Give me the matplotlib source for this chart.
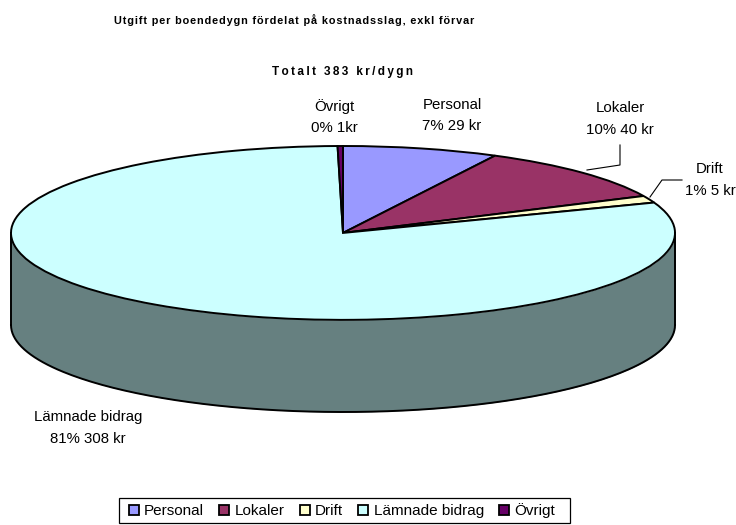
import numpy as np
import matplotlib.pyplot as plt
from matplotlib.lines import Line2D
from matplotlib.patches import Rectangle

plt.rcParams["font.family"] = ["Liberation Sans", "DejaVu Sans"]

names = ["Personal", "Lokaler", "Drift", "Lämnade bidrag", "Övrigt"]
kronor = [29, 40, 5, 308, 1]
percent = [7, 10, 1, 81, 0]
colors = ["#9999FF", "#993366", "#FFFFCC", "#CCFFFF", "#660066"]
side_color = "#668080"
labels = ["Personal\n7% 29 kr", "Lokaler\n10% 40 kr", "Drift\n1% 5 kr",
          "Lämnade bidrag\n81% 308 kr", "Övrigt\n0% 1kr"]
label_pos = [(452, 115.5), (620, 119), (710, 180), (88, 428), (334, 117)]

W, H = 736, 525
fig = plt.figure(figsize=(W / 100, H / 100), dpi=100)

# pie is squashed by the axes box, top ellipse spans x 11-675, y 146-320
depth = 1.06
ax = fig.add_axes([11 / W, 1 - 412 / H, 664 / W, 266 / H])
ax.set_zorder(1)

t = np.linspace(np.pi, 2 * np.pi, 200)
ax.fill_between(np.cos(t), np.sin(t), np.sin(t) - depth, color=side_color, lw=0, zorder=1)
ax.plot(np.cos(t), np.sin(t) - depth, color="black", lw=1.4, zorder=2)
ax.plot([-1, -1], [0, -depth], color="black", lw=1.4, zorder=2)
ax.plot([1, 1], [0, -depth], color="black", lw=1.4, zorder=2)

wedges, _ = ax.pie(kronor, colors=colors, startangle=90, counterclock=False,
                   wedgeprops=dict(edgecolor="black", linewidth=1.4, zorder=3))
ax.set_aspect("auto")
ax.set_xlim(-1, 1)
ax.set_ylim(-1 - depth, 1)
for w in wedges:
    w.set_clip_on(False)
for line in ax.lines:
    line.set_clip_on(False)


def fx(px):
    return px / W


def fy(py):
    return 1 - py / H


title = "Utgift per boendedygn fördelat på kostnadsslag, exkl förvar"
subtitle = "Totalt 383 kr/dygn"
fig.text(fx(294), fy(20), "\u200a".join(title), ha="center", va="center", fontsize=7.8, fontweight="bold")
fig.text(fx(343), fy(72), "\u2009".join(subtitle), ha="center", va="center", fontsize=8.5, fontweight="bold")

for text, (x, y) in zip(labels, label_pos):
    fig.text(fx(x), fy(y), text, ha="center", va="center", fontsize=10.8, linespacing=1.7)

# leader lines for Lokaler and Drift
for xs, ys in [([587, 620, 620], [170, 165, 145]), ([650, 662, 682], [197, 180, 180])]:
    fig.add_artist(Line2D([fx(v) for v in xs], [fy(v) for v in ys], color="black", lw=0.8))

# legend box is wider than its entries, so the frame is drawn on its own
fig.add_artist(Rectangle((fx(119), fy(523)), 451 / W, 25 / H, facecolor="white",
                         edgecolor="black", lw=0.9, transform=fig.transFigure))
handles = [Rectangle((0, 0), 1, 1, facecolor=c, edgecolor="black", lw=1.3) for c in colors]
fig.legend(handles, names, loc="center", bbox_to_anchor=(fx(342), fy(510.5)), ncol=5,
           fontsize=11, frameon=False, borderpad=0.3, borderaxespad=0, handlelength=0.65,
           handleheight=0.65, handletextpad=0.35, columnspacing=1.0)

fig.savefig("out.png", dpi=100)
